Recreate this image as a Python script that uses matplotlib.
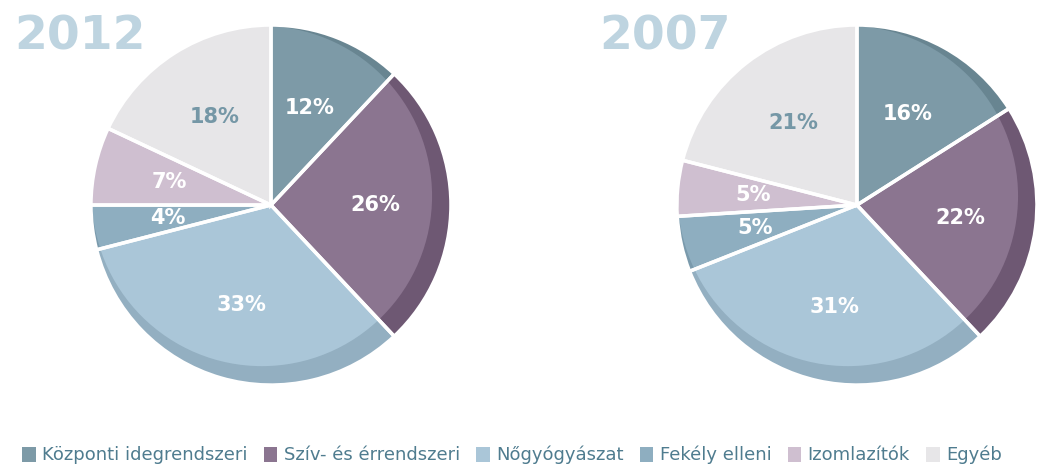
import matplotlib.pyplot as plt
from matplotlib.patches import Rectangle, Circle

# adatok
kategoriak = ['Központi idegrendszeri', 'Szív- és érrendszeri', 'Nőgyógyászat',
              'Fekély elleni', 'Izomlazítók', 'Egyéb']
ertek_2012 = [12, 26, 33, 4, 7, 18]
ertek_2007 = [16, 22, 31, 5, 5, 21]
evek = ['2012', '2007']

szinek = ['#7d9aa7', '#8b7590', '#aac6d8', '#8eaec0', '#cfbfd0', '#e7e6e8']
sotet = ['#688591', '#6e5873', '#93afc1', '#7a9aac', '#b8a7ba', '#d8d6d9']
cimke_szin = ['white', 'white', 'white', 'white', 'white', '#7597a6']

fig = plt.figure(figsize=(10.56, 4.66), dpi=100)
fig.patch.set_facecolor('white')


def rajz_torta(ax, ertekek):
    """
    Torta rajzolasa: sötét perem alul, a felső lap kissé balra-fel tolva
    """
    ax.pie(ertekek, colors=sotet, startangle=90, counterclock=False,
           radius=1.0, wedgeprops=dict(edgecolor='none'))
    # felso lap, egy eltolt korrel levagva
    lap = Circle((-0.05, 0.05), 0.945, transform=ax.transData)
    wedges, texts = ax.pie(ertekek, colors=szinek, startangle=90,
                           counterclock=False, radius=1.0,
                           labels=['%d%%' % v for v in ertekek],
                           labeldistance=0.58,
                           wedgeprops=dict(edgecolor='none'))
    for w in wedges:
        w.set_clip_on(True)
        w.set_clip_path(lap)
    # feher valasztovonalak
    ax.pie(ertekek, colors=['none'] * len(ertekek), startangle=90,
           counterclock=False, radius=1.0,
           wedgeprops=dict(edgecolor='white', linewidth=2.5, fill=False))
    for t, c in zip(texts, cimke_szin):
        t.set_color(c)
        t.set_fontsize(15)
        t.set_fontweight('bold')
        t.set_ha('center')
        t.set_va('center')
    ax.set_xlim(-1.1, 1.1)
    ax.set_ylim(-1.1, 1.1)
    ax.set_aspect('equal')
    ax.axis('off')
# end def


ax1 = fig.add_axes([0.0691, 0.135, 0.375, 0.85])
rajz_torta(ax1, ertek_2012)
ax2 = fig.add_axes([0.624, 0.135, 0.375, 0.85])
rajz_torta(ax2, ertek_2007)

# evszamok
fig.text(14 / 1056, 1 - 50 / 466, evek[0], fontsize=34, fontweight='bold',
         color='#bed4e0', ha='left', va='baseline')
fig.text(599 / 1056, 1 - 50 / 466, evek[1], fontsize=34, fontweight='bold',
         color='#bed4e0', ha='left', va='baseline')

# jelmagyarazat
kezek = [Rectangle((0, 0), 1, 1, facecolor=c, edgecolor='none') for c in szinek]
leg = fig.legend(kezek, kategoriak, loc='center left',
                 bbox_to_anchor=(6 / 1056, 1 - 455 / 466), ncol=6,
                 frameon=False, handlelength=0.75, handleheight=0.9,
                 handletextpad=0.35, columnspacing=0.9,
                 prop=dict(size=13))
for t in leg.get_texts():
    t.set_color('#4f7c8f')

plt.savefig('out.png', dpi=100)
